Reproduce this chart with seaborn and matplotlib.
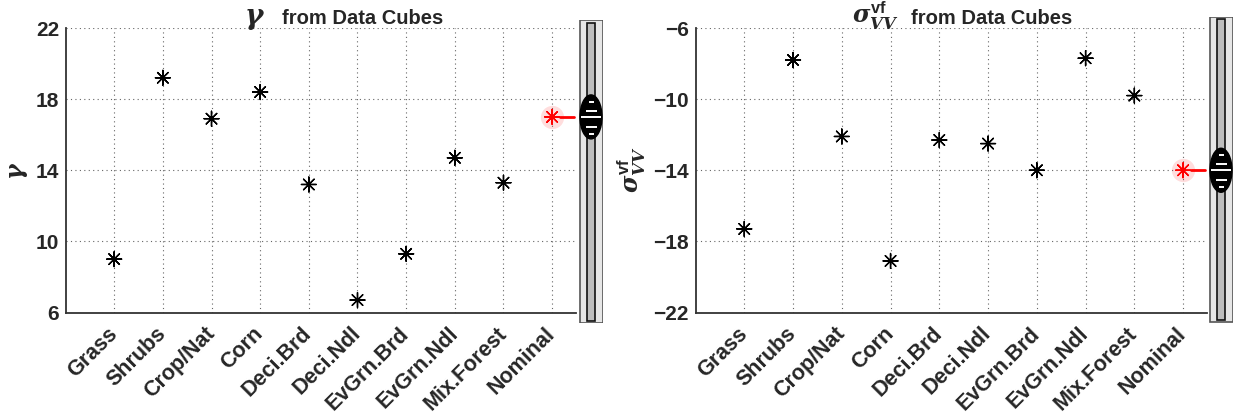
import numpy as np
import pandas as pd
import matplotlib
matplotlib.use("Agg")
import matplotlib.pyplot as plt
from matplotlib.patches import Ellipse, Rectangle
import seaborn as sns

categories = ["Grass", "Shrubs", "Crop/Nat", "Corn", "Deci.Brd", "Deci.Ndl",
              "EvGrn.Brd", "EvGrn.Ndl", "Mix.Forest", "Nominal"]
gamma_values = [9.0, 19.2, 16.9, 18.4, 13.2, 6.7, 9.3, 14.7, 13.3, 17.0]
sigma_values = [-17.3, -7.8, -12.1, -19.1, -12.3, -12.5, -14.0, -7.7, -9.8, -14.0]
gamma_ticks = [6, 10, 14, 18, 22]
sigma_ticks = [-22, -18, -14, -10, -6]

sns.set_style("white")
plt.rcParams["font.family"] = ["Liberation Sans", "DejaVu Sans"]
plt.rcParams["font.weight"] = "bold"
plt.rcParams["mathtext.fontset"] = "custom"
plt.rcParams["mathtext.rm"] = "Liberation Sans:bold"
plt.rcParams["mathtext.bf"] = "Liberation Sans:bold"
plt.rcParams["mathtext.it"] = "DejaVu Serif:italic:bold"

W, H = 1237, 417
fig = plt.figure(figsize=(W / 100, H / 100), dpi=100)

def fx(px):
    return px / W

def fy(py):
    return 1 - py / H

star = (8, 2, 0)

def panel(ax_px, slider_px, values, ticks, ylab, title_math, title_pos):
    x0, x1, y0, y1 = ax_px
    ax = fig.add_axes([fx(x0), fy(y1), fx(x1 - x0), (y1 - y0) / H])
    df = pd.DataFrame({"cat": categories, "val": values,
                       "kind": ["data"] * (len(categories) - 1) + ["nominal"]})
    nom = values[-1]
    ax.scatter([len(categories) - 1], [nom], s=280, color="#ff3030", alpha=0.16,
               linewidths=0, zorder=2)
    sns.scatterplot(data=df, x="cat", y="val", hue="kind",
                    palette={"data": "black", "nominal": "red"},
                    marker=star, s=115, linewidth=1.0, legend=False, ax=ax, zorder=3)
    ax.plot([len(categories) - 1 + 0.17, len(categories) - 1 + 0.45], [nom, nom],
            color="red", lw=2, clip_on=False, zorder=3)
    lo, hi = ticks[0], ticks[-1]
    ax.set_ylim(lo, hi)
    ax.set_xlim(-0.99, 9.49)
    ax.set_yticks(ticks)
    ax.set_xticks(range(len(categories)))
    ax.set_xticklabels(categories, rotation=45, ha="right", va="center",
                       rotation_mode="anchor", fontsize=15.5, fontweight="bold")
    for t in ax.get_yticklabels():
        t.set_fontsize(15)
        t.set_fontweight("bold")
    ax.tick_params(direction="in", length=4, width=1, color="#333333", pad=5)
    ax.tick_params(axis="x", pad=13)
    ax.grid(True, color="#666666", linestyle=(0, (1, 3)), linewidth=0.8)
    for s in ["top", "right"]:
        ax.spines[s].set_visible(False)
    for s in ["left", "bottom"]:
        ax.spines[s].set_color("#333333")
        ax.spines[s].set_linewidth(1.3)
    ax.set_xlabel("")
    ax.set_ylabel(ylab, fontsize=17, fontweight="bold", labelpad=4)
    # title
    mx, tc, tsize = title_pos
    fig.text(fx(mx), fy(24), title_math, fontsize=tsize, ha="right", va="baseline")
    fig.text(fx(tc), fy(23.5), "from Data Cubes", fontsize=14.5, fontweight="bold",
             ha="center", va="baseline")

    # slider
    sx0, sx1, sy0, sy1 = slider_px
    sax = fig.add_axes([fx(sx0), fy(sy1), fx(sx1 - sx0), (sy1 - sy0) / H])
    ppu = (y1 - y0) / (hi - lo)
    top_v = hi + (y0 - sy0) / ppu
    bot_v = lo - (sy1 - y1) / ppu
    sax.set_xlim(0, sx1 - sx0)
    sax.set_ylim(bot_v, top_v)
    sax.axis("off")
    wpx = sx1 - sx0
    sax.add_patch(Rectangle((0.5, bot_v + 0.5 / ppu), wpx - 1, top_v - bot_v - 1 / ppu,
                            facecolor="#e6e6e6", edgecolor="#555555", lw=1.2))
    sax.add_patch(Rectangle((wpx / 2 - 4, bot_v + 2.5 / ppu), 8, top_v - bot_v - 5 / ppu,
                            facecolor="#bdbdbd", edgecolor="#111111", lw=1.2))
    sax.add_patch(Ellipse((wpx / 2, nom), 22, 44 / ppu, facecolor="black",
                          edgecolor="black", zorder=3))
    for off, half in [(-15, 2.5), (-6, 5.5), (0, 10), (10, 5.5), (17, 2.5)]:
        sax.plot([wpx / 2 - half, wpx / 2 + half], [nom - off / ppu] * 2,
                 color="white", lw=1.4, zorder=4, solid_capstyle="butt")
    return ax

panel((66, 576, 28, 312.5), (579, 603, 20, 323), gamma_values, gamma_ticks,
      r"$\gamma$", r"$\gamma$", (265, 362.5, 20))
panel((696, 1207, 28, 312.5), (1209, 1233, 17, 323), sigma_values, sigma_ticks,
      r"$\sigma^{\mathrm{vf}}_{VV}$", r"$\sigma^{\mathrm{vf}}_{VV}$", (898, 991.5, 17))

fig.savefig("out.png", dpi=100)
